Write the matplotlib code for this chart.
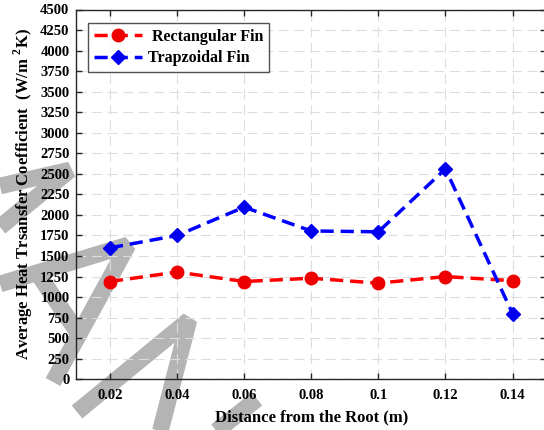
import matplotlib
matplotlib.use("Agg")
import matplotlib.pyplot as plt
from matplotlib.lines import Line2D

plt.rcParams["font.family"] = ["Liberation Serif", "DejaVu Serif"]
plt.rcParams["font.weight"] = "bold"
plt.rcParams["mathtext.fontset"] = "custom"
plt.rcParams["mathtext.rm"] = "Liberation Serif:bold"
plt.rcParams["mathtext.bf"] = "Liberation Serif:bold"

# Distance from the fin root (m)
distance = [0.02, 0.04, 0.06, 0.08, 0.10, 0.12, 0.14]
# Average heat transfer coefficient (W/m^2 K)
h_rectangular = [1190, 1305, 1190, 1230, 1170, 1250, 1200]
h_trapezoidal = [1600, 1750, 2095, 1805, 1795, 2560, 800]

x_ticks = [0.02, 0.04, 0.06, 0.08, 0.10, 0.12, 0.14]
x_tick_labels = ["0.02", "0.04", "0.06", "0.08", "0.1", "0.12", "0.14"]
y_ticks = list(range(0, 4501, 250))

W, H = 544, 430
fig = plt.figure(figsize=(W / 100, H / 100), dpi=100)
fig.patch.set_facecolor("white")

# grey brush strokes in the background (pixel coordinates, origin top-left)
strokes = [
    [(0, 186), (70, 170), (0, 227)],
    [(0, 284), (128, 245), (53, 382)],
    [(38, 274), (80, 336)],
    [(77, 412), (189, 320), (158, 440)],
    [(257, 399), (205, 440)],
]
for s in strokes:
    xs = [p[0] / W for p in s]
    ys = [1 - p[1] / H for p in s]
    fig.add_artist(Line2D(xs, ys, transform=fig.transFigure, color="#b4b4b4",
                          lw=12, solid_capstyle="butt", solid_joinstyle="bevel",
                          zorder=-5))

ax = fig.add_axes([76.4 / W, 1 - 379.3 / H, 469.7 / W, 369.8 / H])
ax.set_facecolor("none")

dash = (0, (3.8, 2.0))
ax.plot(distance, h_rectangular, linestyle=dash, color="#ff0000", lw=2.5,
        marker="o", markersize=9, markerfacecolor="#ee0000", markeredgecolor="#ee0000",
        label=" Rectangular Fin", zorder=3)
ax.plot(distance, h_trapezoidal, linestyle=dash, color="#0000ff", lw=2.5,
        marker="D", markersize=7, markerfacecolor="#0000ee", markeredgecolor="#0000ee",
        label="Trapzoidal Fin", zorder=3)

ax.set_xlim(0.01, 0.15)
ax.set_ylim(0, 4500)
ax.set_xticks(x_ticks)
ax.set_xticklabels(x_tick_labels)
ax.set_yticks(y_ticks)

ax.grid(True, color="#dddddd", linestyle=(0, (9, 5)), lw=0.8, zorder=0)
ax.tick_params(direction="in", length=4, width=1, top=True, right=True,
               labelsize=10.5, colors="#262626")
ax.tick_params(axis="y", pad=5)
ax.tick_params(axis="x", pad=7)
for lab in ax.get_xticklabels() + ax.get_yticklabels():
    lab.set_fontweight("bold")
    lab.set_color("black")
for sp in ax.spines.values():
    sp.set_color("#262626")
    sp.set_linewidth(1)

ax.set_xlabel("Distance from the Root (m)", fontsize=12, fontweight="bold", labelpad=5)
ax.set_ylabel(r"Average Heat Trsansfer Coefficient  (W/m $^{2}$K)", fontsize=12,
              fontweight="bold", labelpad=4)

leg = ax.legend(loc="upper left", bbox_to_anchor=(0.0247, 0.9635), borderaxespad=0,
                frameon=True, fancybox=False, edgecolor="#262626", handlelength=3.0,
                borderpad=0.35, labelspacing=0.35, handletextpad=0.4,
                prop={"weight": "bold", "size": 11.5})
leg.get_frame().set_linewidth(1)

fig.savefig("out.png", dpi=100, facecolor="white")
